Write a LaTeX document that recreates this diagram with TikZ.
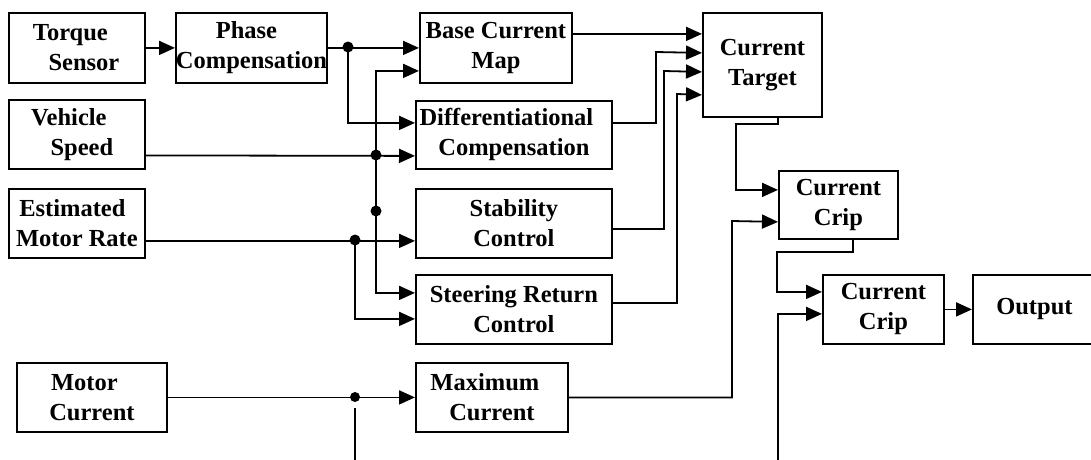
\documentclass[tikz,border=0pt]{standalone}
\usepackage{fontspec}
\setmainfont{Liberation Serif}
\usetikzlibrary{arrows.meta}
\tikzset{
  blk/.style={draw, line width=1.8pt, rectangle, anchor=north west, inner sep=0pt,
    align=center, font=\fontsize{24.5}{30}\selectfont\bfseries},
  wire/.style={draw, line width=1.8pt},
  arr/.style={wire, -{Triangle[length=16pt,width=14pt]}},
  dot/.style={fill, circle, inner sep=0pt, minimum size=11pt}
}
% place a block by its top-left corner, width and height
\newcommand{\blkat}[6]{\node[blk, minimum width=#4pt, minimum height=#5pt] (#1) at (#2,#3) {#6};}
% pad a line on the right (shifts it left) or on the left (shifts it right)
\newcommand{\padR}[2]{#2\hspace*{#1pt}}
\newcommand{\padL}[2]{\hspace*{#1pt}#2}
\begin{document}
\begin{tikzpicture}[x=1pt, y=-1pt]
\useasboundingbox (0,0) rectangle (1091,459);

% input blocks
\blkat{ts}{8}{12}{136}{70}{\padR{13}{Torque}\\\padL{14}{Sensor}}
\blkat{pc}{175}{12}{148}{70}{\padR{10}{Phase}\\Compensation}
\blkat{vs}{8}{99}{136}{69}{\padR{16}{Vehicle}\\\padL{10}{Speed}}
\blkat{em}{8}{188}{136}{69}{\padR{9}{Estimated}\\Motor Rate}
\blkat{mc}{16}{362}{150}{69}{\padR{15}{Motor}\\Current}

% processing blocks
\blkat{bcm}{419}{12}{152}{70}{Base Current\\Map}
\blkat{dc}{415}{100}{196}{68}{\padR{15}{Differentiational}\\Compensation}
\blkat{sc}{415}{188}{196}{69}{Stability\\Control}
\blkat{sr}{415}{274}{196}{69}{Steering Return\\Control}
\blkat{mx}{415}{362}{152}{69}{\padR{14}{Maximum}\\Current}

% output chain
\blkat{ct}{702}{12}{119}{104}{Current\\Target}
\blkat{cc1}{778}{170}{119}{68}{Current\\Crip}
\blkat{cc2}{822}{274}{121}{69}{Current\\Crip}
\blkat{out}{972}{274}{123}{69}{Output}

% junctions and bends
\coordinate (j1) at (348,47);
\coordinate (j2) at (376,155);
\coordinate (j3) at (376,211);
\coordinate (j4) at (355,240);
\coordinate (j5) at (355,397);
\coordinate (b1) at (736,124);
\coordinate (b2) at (732,221);
\coordinate (b3) at (777,252);
\coordinate (mcfoot) at (355,408);
\coordinate (mcend) at (355,465);
\coordinate (cc2end) at (778,465);

% torque path
\draw[arr] (ts.east) -- (pc.west);
\draw[arr] (pc.east) -- (bcm.west);
\draw[arr] (j1) |- ([yshift=12pt]dc.west);

% vehicle speed
\draw[arr] ([yshift=-21pt]vs.east) -- ([yshift=-21pt]dc.west);
\draw[arr] (j2) |- ([yshift=-23pt]bcm.west);
\draw[arr] (j2) |- ([yshift=16.5pt]sr.west);

% estimated motor rate
\draw[arr] ([yshift=-17.5pt]em.east) -- ([yshift=-17.5pt]sc.west);
\draw[arr] (j4) |- ([yshift=-9.5pt]sr.west);

% motor current
\draw[arr] (mc.east) -- (mx.west);
\draw[wire] (mcfoot) -- (mcend);

% into current target
\draw[arr] ([yshift=14pt]bcm.east) -- ([yshift=31pt]ct.west);
\draw[arr] ([yshift=12pt]dc.east) -| (656,52) -- ([yshift=12pt]ct.west);
\draw[arr] ([yshift=-5.5pt]sc.east) -| (664,71) -- ([yshift=-7pt]ct.west);
\draw[arr] ([yshift=6.5pt]sr.east) -| (677,94) -- ([yshift=-30pt]ct.west);

% current limiting stages
\draw[arr] ([xshift=15.5pt]ct.south) |- (b1) |- ([yshift=15pt]cc1.west);
\draw[arr] (mx.east) -| (b2) -- ([yshift=-17pt]cc1.west);
\draw[arr] ([xshift=14.5pt]cc1.south) |- (b3) |- ([yshift=17.5pt]cc2.west);
\draw[arr] (cc2end) |- ([yshift=-4.5pt]cc2.west);
\draw[arr] (cc2.east) -- (out.west);

% junction dots
\foreach \j in {j1,j2,j3,j4} \node[dot] at (\j) {};
\node[dot, minimum size=10pt] at (j5) {};
\end{tikzpicture}
\end{document}
